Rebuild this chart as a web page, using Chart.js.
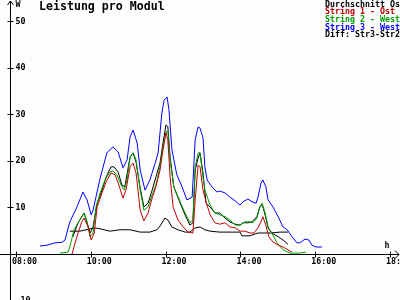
<!DOCTYPE html>
<html>
<head>
<meta charset="utf-8">
<script src="https://cdn.jsdelivr.net/npm/chart.js@4/dist/chart.umd.min.js"></script>
<style>
  body { margin: 0; background: #fdfdfd; }
  #wrap { width: 400px; height: 300px; }
</style>
</head>
<body>
<div id="wrap"><canvas id="chart" width="400" height="300"></canvas></div>
<script>
// time in hours, values in W
var tBlue = [8.64, 8.83, 9.04, 9.23, 9.31, 9.44, 9.63, 9.79, 9.90, 10.01, 10.06, 10.25, 10.43, 10.59, 10.73, 10.86, 10.97, 11.05, 11.13, 11.24, 11.32, 11.45, 11.58, 11.72, 11.80, 11.90, 11.96, 12.04, 12.09, 12.17, 12.30, 12.44, 12.57, 12.71, 12.79, 12.87, 12.92, 13.00, 13.05, 13.11, 13.24, 13.37, 13.45, 13.59, 13.72, 13.86, 13.99, 14.07, 14.20, 14.31, 14.42, 14.47, 14.55, 14.60, 14.68, 14.74, 14.87, 15.01, 15.14, 15.25, 15.38, 15.51, 15.59, 15.73, 15.83, 15.91, 16.02, 16.18];
var string3 = [1.7, 1.9, 2.4, 2.5, 3.0, 6.9, 10.1, 13.3, 11.6, 8.4, 9.4, 16.3, 21.7, 23.0, 21.9, 18.5, 20.2, 25.1, 26.6, 23.8, 18.0, 13.7, 15.9, 19.5, 21.7, 30.3, 33.0, 33.7, 30.9, 22.3, 17.0, 14.4, 11.6, 12.2, 24.5, 27.3, 27.0, 24.9, 18.7, 15.9, 14.4, 13.3, 13.5, 13.1, 12.2, 11.4, 10.5, 11.2, 11.8, 11.2, 10.9, 12.2, 15.2, 15.9, 14.4, 11.6, 10.1, 8.0, 5.8, 5.2, 3.7, 2.4, 2.4, 3.2, 3.0, 1.9, 1.5, 1.5];

var tGreen = [9.18, 9.39, 9.44, 9.55, 9.66, 9.76, 9.82, 9.90, 9.98, 10.06, 10.14, 10.25, 10.38, 10.51, 10.59, 10.70, 10.81, 10.89, 10.97, 11.05, 11.13, 11.21, 11.32, 11.42, 11.53, 11.64, 11.74, 11.85, 11.93, 12.01, 12.06, 12.12, 12.22, 12.39, 12.52, 12.65, 12.73, 12.79, 12.87, 12.92, 13.00, 13.05, 13.19, 13.32, 13.45, 13.59, 13.72, 13.86, 13.99, 14.12, 14.26, 14.34, 14.44, 14.52, 14.58, 14.66, 14.74, 14.84, 14.98, 15.14, 15.33, 15.59, 15.75];
var string2 = [0.2, 0.4, 1.5, 5.2, 6.7, 8.0, 8.8, 6.9, 3.7, 4.5, 10.1, 13.1, 15.9, 17.6, 17.8, 17.0, 14.8, 13.7, 15.9, 20.8, 21.7, 20.2, 13.7, 9.4, 10.1, 12.7, 14.8, 18.7, 23.0, 26.2, 26.4, 20.2, 14.4, 11.2, 8.8, 6.7, 7.3, 18.7, 21.7, 21.7, 16.5, 13.7, 10.5, 8.8, 8.4, 8.0, 7.3, 6.2, 6.2, 6.9, 6.9, 6.7, 7.7, 10.1, 10.9, 8.8, 5.8, 4.5, 2.4, 0.9, 0.2, 0.2, 0.4];

var tRed = [9.50, 9.58, 9.66, 9.76, 9.82, 9.93, 10.01, 10.09, 10.17, 10.30, 10.41, 10.54, 10.65, 10.75, 10.86, 10.94, 11.05, 11.13, 11.21, 11.32, 11.42, 11.53, 11.64, 11.74, 11.85, 11.93, 12.01, 12.06, 12.12, 12.20, 12.33, 12.47, 12.60, 12.73, 12.79, 12.87, 12.92, 13.00, 13.08, 13.19, 13.32, 13.45, 13.59, 13.72, 13.86, 13.99, 14.12, 14.26, 14.36, 14.47, 14.55, 14.60, 14.68, 14.76, 14.87, 15.01, 15.14, 15.27, 15.38];
var string1 = [0, 2.4, 4.5, 6.9, 7.7, 5.8, 3.0, 4.5, 10.1, 13.1, 15.5, 17.4, 17.0, 14.8, 12.0, 13.7, 18.7, 19.5, 17.4, 9.4, 7.1, 8.8, 12.0, 14.4, 18.0, 22.3, 26.0, 24.5, 16.5, 10.1, 7.3, 5.8, 4.7, 4.5, 11.6, 19.1, 18.7, 13.7, 11.2, 8.4, 6.7, 6.4, 6.7, 5.8, 5.6, 4.9, 4.9, 4.5, 4.5, 5.6, 6.9, 8.0, 6.2, 3.7, 2.6, 1.9, 1.5, 0.9, 0.4];

var tAvg = [9.52, 9.66, 9.82, 9.90, 9.98, 10.06, 10.17, 10.30, 10.41, 10.54, 10.62, 10.73, 10.83, 10.91, 11.05, 11.13, 11.21, 11.32, 11.42, 11.53, 11.64, 11.74, 11.85, 11.93, 12.01, 12.06, 12.12, 12.22, 12.39, 12.52, 12.65, 12.73, 12.79, 12.87, 12.92, 13.00, 13.08, 13.19, 13.32, 13.45, 13.59, 13.72, 13.86, 13.99, 14.07, 14.20, 14.31, 14.44, 14.52, 14.58, 14.66, 14.74, 14.84, 15.01, 15.14, 15.27];
var average = [3.7, 6.7, 8.8, 6.7, 4.5, 5.8, 10.9, 13.7, 16.5, 18.7, 18.7, 17.6, 14.8, 14.4, 20.8, 21.7, 19.7, 14.2, 10.1, 10.9, 13.7, 16.5, 19.5, 23.8, 27.7, 27.3, 20.8, 14.4, 10.9, 8.4, 6.2, 6.7, 18.0, 20.6, 21.7, 17.4, 10.9, 10.1, 8.8, 8.8, 7.7, 6.9, 6.4, 6.2, 6.7, 6.7, 6.9, 8.0, 10.1, 10.7, 8.4, 5.6, 4.5, 3.7, 3.0, 2.1];

var tDiff = [9.44, 9.71, 9.98, 10.11, 10.25, 10.51, 10.78, 11.05, 11.32, 11.58, 11.77, 11.85, 11.98, 12.06, 12.17, 12.33, 12.52, 12.65, 12.79, 12.92, 13.05, 13.19, 13.45, 13.99, 14.04, 14.26, 14.39, 14.47, 14.79, 15.06, 15.27];
var diff32 = [4.9, 4.9, 5.4, 5.6, 5.4, 4.9, 5.2, 5.2, 4.7, 4.7, 5.2, 6.0, 7.7, 7.3, 5.8, 5.2, 4.7, 4.7, 5.6, 5.8, 5.2, 4.9, 4.7, 4.7, 3.9, 3.9, 4.3, 4.5, 4.5, 4.7, 4.7];

var yTicks = [-10, 10, 20, 30, 40, 50];
var xTicks = [8, 10, 12, 14, 16, 18];
var xTickLabels = ['08:00', '10:00', '12:00', '14:00', '16:00', '18:00'];
var legendLabels = ['Durchschnitt Ost', 'String 1 - Ost', 'String 2 - West', 'String 3 - West', 'Diff: Str3-Str2'];
var legendColors = ['#000000', '#c00000', '#00a000', '#0000ff', '#000000'];

function pts(t, v) {
    return t.map((x, i) => ({ x: x, y: v[i] }));
}

function ds(label, t, v, color) {
    return {
        label: label,
        data: pts(t, v),
        borderColor: color,
        borderWidth: 1,
        pointRadius: 0,
        tension: 0,
        fill: false
    };
}

var axesPlugin = {
    id: 'axes',
    beforeDatasetsDraw: function (chart) {
        var ctx = chart.ctx;
        var xs = chart.scales.x, ys = chart.scales.y;
        var x0 = Math.round(xs.getPixelForValue(7.84)) + 0.5;
        var y0 = Math.round(ys.getPixelForValue(0)) + 0.5;
        ctx.save();
        ctx.strokeStyle = '#000';
        ctx.lineWidth = 1;
        ctx.beginPath();
        // y axis with arrow
        ctx.moveTo(x0, 300); ctx.lineTo(x0, 1);
        ctx.moveTo(x0 - 3, 5); ctx.lineTo(x0, 1); ctx.lineTo(x0 + 3, 5);
        // x axis with arrow
        ctx.moveTo(0, y0); ctx.lineTo(399, y0);
        ctx.moveTo(395, y0 - 4); ctx.lineTo(399, y0); ctx.lineTo(395, y0 + 4);
        yTicks.forEach(v => {
            var py = Math.round(ys.getPixelForValue(v)) + 0.5;
            ctx.moveTo(x0 - 3, py); ctx.lineTo(x0 + 3, py);
        });
        xTicks.forEach(v => {
            var px = Math.round(xs.getPixelForValue(v)) + 0.5;
            ctx.moveTo(px, y0 - 3); ctx.lineTo(px, y0 + 3);
        });
        ctx.stroke();

        ctx.fillStyle = '#000';
        ctx.font = 'bold 8.3px "DejaVu Sans Mono"';
        ctx.textBaseline = 'middle';
        ctx.textAlign = 'left';
        yTicks.forEach(v => {
            ctx.fillText(String(v), x0 + 5, ys.getPixelForValue(v) + 0.5);
        });
        ctx.fillText('W', x0 + 5, 5);
        xTicks.forEach((v, i) => {
            ctx.fillText(xTickLabels[i], xs.getPixelForValue(v) - 4, y0 + 7.5);
        });
        ctx.fillText('h', 384.5, y0 - 9);

        // title
        ctx.font = 'bold 11.6px "DejaVu Sans Mono"';
        ctx.fillText('Leistung pro Modul', 39, 7);

        // legend
        ctx.font = 'bold 8.3px "DejaVu Sans Mono"';
        legendLabels.forEach((l, i) => {
            ctx.fillStyle = legendColors[i];
            ctx.fillText(l, 325, 4.5 + i * 7.7);
        });
        ctx.restore();
    }
};

var ctx = document.getElementById('chart').getContext('2d');
var chart = new Chart(ctx, {
    type: 'line',
    data: {
        datasets: [
            ds('String 3 - West', tBlue, string3, '#0000ff'),
            ds('String 1 - Ost', tRed, string1, '#c00000'),
            ds('String 2 - West', tGreen, string2, '#00a000'),
            ds('Durchschnitt Ost', tAvg, average, '#000000'),
            ds('Diff: Str3-Str2', tDiff, diff32, '#000000')
        ]
    },
    options: {
        responsive: false,
        animation: false,
        layout: { padding: 0 },
        plugins: {
            legend: { display: false },
            tooltip: { enabled: false }
        },
        scales: {
            x: { type: 'linear', min: 7.572, max: 18.267, display: false },
            y: { min: -9.87, max: 54.5, display: false }
        }
    },
    plugins: [axesPlugin]
});
</script>
</body>
</html>
